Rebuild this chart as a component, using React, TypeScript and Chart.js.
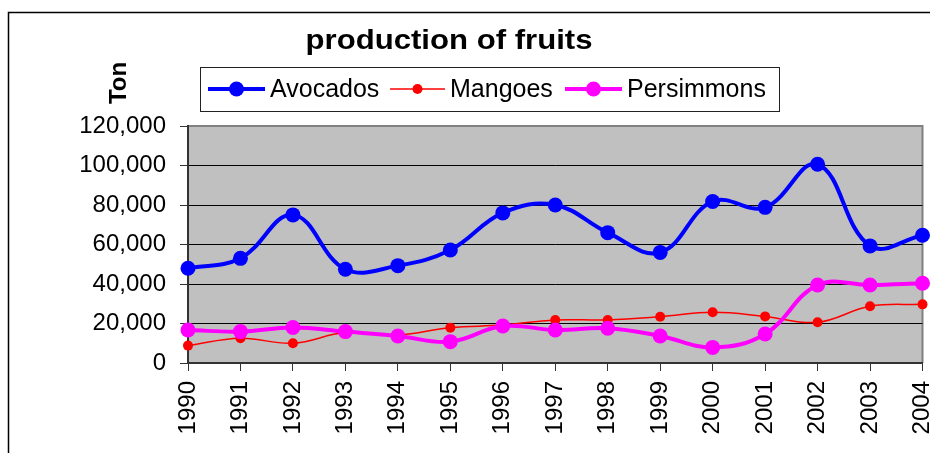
import React, { useEffect, useRef } from "react";
import { Chart, registerables } from "chart.js";

Chart.register(...registerables);

const years = ["1990", "1991", "1992", "1993", "1994", "1995", "1996", "1997", "1998", "1999", "2000", "2001", "2002", "2003", "2004"];
const avocados = [48000, 53000, 75000, 47500, 49300, 57200, 76000, 80000, 66000, 56000, 81800, 78800, 100600, 59300, 64700];
const mangoes = [8800, 12500, 10000, 15400, 14200, 17900, 19200, 21800, 21800, 23400, 25700, 23600, 20600, 28700, 29700];
const persimmons = [16700, 15900, 18000, 15900, 13700, 10800, 18700, 16700, 17600, 13700, 7900, 14700, 39500, 39500, 40400];

const seriesNames = ["Avocados", "Mangoes", "Persimmons"];
const chartTitle = "production of fruits";
const yAxisTitle = "Ton";
const yMin = 0;
const yMax = 120000;
const yStep = 20000;

const FONT = '"Liberation Sans", Arial, sans-serif';

const decorPlugin = {
  id: "decor",
  beforeDraw(chart: any) {
    const { ctx, chartArea } = chart;
    ctx.save();
    ctx.fillStyle = "#ffffff";
    ctx.fillRect(0, 0, chart.width, chart.height);
    // outer border
    ctx.strokeStyle = "#000000";
    ctx.lineWidth = 1.5;
    ctx.strokeRect(8.5, 12.5, chart.width + 20, chart.height + 20);
    // plot area background
    ctx.fillStyle = "#c0c0c0";
    ctx.fillRect(chartArea.left, chartArea.top, chartArea.right - chartArea.left, chartArea.bottom - chartArea.top);
    ctx.strokeStyle = "#808080";
    ctx.lineWidth = 2;
    ctx.beginPath();
    ctx.moveTo(chartArea.left, chartArea.top);
    ctx.lineTo(chartArea.right, chartArea.top);
    ctx.lineTo(chartArea.right, chartArea.bottom);
    ctx.stroke();
    ctx.restore();
  },
  afterDraw(chart: any) {
    const { ctx } = chart;
    ctx.save();
    // title (stretched horizontally like the original)
    ctx.fillStyle = "#000";
    ctx.font = `bold 28px ${FONT}`;
    ctx.textAlign = "center";
    ctx.textBaseline = "alphabetic";
    const tw = ctx.measureText(chartTitle).width;
    ctx.save();
    ctx.translate(449, 49);
    ctx.scale(287 / tw, 1);
    ctx.fillText(chartTitle, 0, 0);
    ctx.restore();
    // y axis title
    ctx.save();
    ctx.translate(119, 83);
    ctx.rotate(-Math.PI / 2);
    ctx.textBaseline = "middle";
    ctx.font = `bold 24px ${FONT}`;
    ctx.fillText(yAxisTitle, 0, 0);
    ctx.restore();
    // legend box
    ctx.fillStyle = "#ffffff";
    ctx.fillRect(200, 67, 579, 44);
    ctx.strokeStyle = "#222";
    ctx.lineWidth = 1;
    ctx.strokeRect(200.5, 67.5, 579, 44);
    const items = [
      { x0: 208, x1: 265, tx: 270, color: "#0000ff", lw: 4, r: 7.5 },
      { x0: 390, x1: 445, tx: 450, color: "#ff0000", lw: 1.5, r: 5 },
      { x0: 565, x1: 622, tx: 627, color: "#ff00ff", lw: 4, r: 7.5 },
    ];
    const ly = 89;
    ctx.font = `25px ${FONT}`;
    ctx.textAlign = "left";
    ctx.textBaseline = "middle";
    items.forEach((it, i) => {
      ctx.strokeStyle = it.color;
      ctx.lineWidth = it.lw;
      ctx.beginPath();
      ctx.moveTo(it.x0, ly);
      ctx.lineTo(it.x1, ly);
      ctx.stroke();
      ctx.fillStyle = it.color;
      ctx.beginPath();
      ctx.arc((it.x0 + it.x1) / 2, ly, it.r, 0, Math.PI * 2);
      ctx.fill();
      ctx.fillStyle = "#000";
      ctx.fillText(seriesNames[i], it.tx, ly + 1);
    });
    ctx.restore();
  },
};

export default function App() {
  const ref = useRef<HTMLCanvasElement | null>(null);
  useEffect(() => {
    if (!ref.current) return;
    const chart = new Chart(ref.current, {
      type: "line",
      data: {
        labels: years,
        datasets: [
          {
            label: seriesNames[0],
            data: avocados,
            borderColor: "#0000ff",
            backgroundColor: "#0000ff",
            borderWidth: 4,
            pointRadius: 7.5,
            pointBorderWidth: 0,
            tension: 0.4,
            clip: false,
            order: 3,
          },
          {
            label: seriesNames[1],
            data: mangoes,
            borderColor: "#ff0000",
            backgroundColor: "#ff0000",
            borderWidth: 1.5,
            pointRadius: 5,
            pointBorderWidth: 0,
            tension: 0.4,
            clip: false,
            order: 2,
          },
          {
            label: seriesNames[2],
            data: persimmons,
            borderColor: "#ff00ff",
            backgroundColor: "#ff00ff",
            borderWidth: 4,
            pointRadius: 7.5,
            pointBorderWidth: 0,
            tension: 0.4,
            clip: false,
            order: 1,
          },
        ],
      },
      options: {
        animation: false,
        responsive: false,
        maintainAspectRatio: false,
        layout: { padding: { top: 126, right: 5, left: 0, bottom: 0 } },
        plugins: {
          legend: { display: false },
          title: { display: false },
          tooltip: { enabled: false },
        },
        scales: {
          x: {
            offset: false,
            grid: { drawOnChartArea: false, drawTicks: true, tickLength: 8, color: "#333", tickColor: "#333" },
            border: { color: "#333", width: 2 },
            ticks: {
              color: "#000",
              font: { family: FONT, size: 24 },
              minRotation: 90,
              maxRotation: 90,
              padding: 10,
              autoSkip: false,
            },
            afterFit(scale: any) {
              scale.height = 90;
              scale.paddingLeft = 0;
              scale.paddingRight = 0;
            },
          },
          y: {
            min: yMin,
            max: yMax,
            grid: {
              color: (c: any) => (c.tick && (c.tick.value === yMin || c.tick.value === yMax) ? "rgba(0,0,0,0)" : "#000"),
              tickColor: "#333",
              tickLength: 8,
              lineWidth: 1,
            },
            border: { color: "#333", width: 2 },
            ticks: {
              stepSize: yStep,
              color: "#000",
              font: { family: FONT, size: 24 },
              padding: 14,
              callback: (v: any) => Number(v).toLocaleString("en-US"),
            },
            afterFit(scale: any) {
              scale.width = 188;
              scale.paddingTop = 0;
              scale.paddingBottom = 0;
            },
          },
        },
      },
      plugins: [decorPlugin],
    });
    return () => chart.destroy();
  }, []);
  return (
    <div style={{ position: "fixed", left: 0, top: 0, width: 930, height: 453, background: "#fff" }}>
      <canvas ref={ref} width={930} height={453} style={{ display: "block", width: 930, height: 453 }} />
    </div>
  );
}
